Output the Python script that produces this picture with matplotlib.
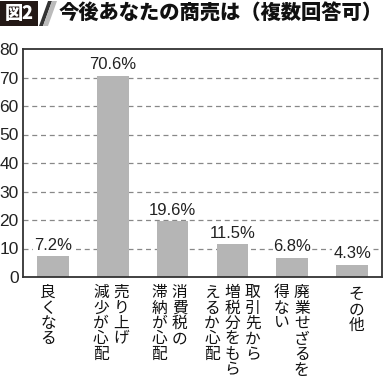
import matplotlib
matplotlib.use("Agg")
import matplotlib.pyplot as plt
import matplotlib.transforms as mtransforms
from matplotlib.patches import Rectangle, Polygon

plt.rcParams['font.family'] = ['Liberation Sans', 'Noto Sans CJK JP', 'DejaVu Sans']

# data
categories = [
    ['良くなる'],
    ['売り上げ', '減少が心配'],
    ['消費税の', '滞納が心配'],
    ['取引先から', '増税分をもら', 'えるか心配'],
    ['廃業せざるを', '得ない'],
    ['その他'],
]
values = [7.2, 70.6, 19.6, 11.5, 6.8, 4.3]
value_labels = ['7.2%', '70.6%', '19.6%', '11.5%', '6.8%', '4.3%']
yticks = [0, 10, 20, 30, 40, 50, 60, 70, 80]
title = '今後あなたの商売は（複数回答可）'
fig_no = '図2'

W, H = 384, 390
fig = plt.figure(figsize=(W / 100, H / 100), dpi=100)
ax = fig.add_axes([23 / W, (H - 277) / H, 359 / W, 228 / H])

x = list(range(len(values)))
ax.bar(x, values, width=0.53, color='#b5b5b5', zorder=2)
ax.set_xlim(-0.5, len(values) - 0.5)
ax.set_ylim(0, 80)
ax.set_yticks(yticks)
ax.set_yticklabels([str(t) for t in yticks], fontsize=12.5, color='#222222')
ax.tick_params(axis='y', length=0, pad=3)
ax.set_xticks([])
for t in yticks[1:-1]:
    ax.axhline(t, color='#888888', lw=0.9, ls=(0, (4, 3)), zorder=1)
for s in ax.spines.values():
    s.set_color('#333333')
    s.set_linewidth(1.3)

for i, (v, lab) in enumerate(zip(values, value_labels)):
    ax.text(i, v + 1.2, lab, ha='center', va='bottom', fontsize=12, color='#222222',
            zorder=3, bbox=dict(facecolor='white', edgecolor='none', pad=0.5))

# vertical japanese labels (columns right to left)
trans = mtransforms.blended_transform_factory(ax.transData, fig.transFigure)
shift = [-0.08, -0.03, -0.05, 0.0, -0.01, 0.07]
col_gap = 0.34
pitch = 15.5
for i, cols in enumerate(categories):
    n = len(cols)
    top = 287 if n == 1 and i == len(categories) - 1 else 285
    for j, col in enumerate(cols):
        cx = i + shift[i] + ((n - 1) / 2 - j) * col_gap
        for k, ch in enumerate(col):
            py = top + 7.5 + k * pitch
            fig.text(cx, 1 - py / H, ch, transform=trans, ha='center', va='center',
                     fontsize=11.3, family=['Noto Sans CJK JP'], color='#111111')

# header
fig.patches.append(Rectangle((0, 1 - 26 / H), 38 / W, 25 / H, transform=fig.transFigure,
                             facecolor='#231815', edgecolor='none'))
fig.text(19 / W, 1 - 13.5 / H, fig_no, ha='center', va='center', color='white',
         fontsize=13, fontweight='heavy', family=['Noto Sans CJK JP'])
def px(pts):
    return [(a / W, 1 - b / H) for a, b in pts]
fig.patches.append(Polygon(px([(39, 26), (43, 26), (52, 1), (48, 1)]), closed=True,
                           transform=fig.transFigure, facecolor='#333333', edgecolor='none'))
fig.patches.append(Polygon(px([(43, 26), (48, 26), (57, 1), (52, 1)]), closed=True,
                           transform=fig.transFigure, facecolor='#bbbbbb', edgecolor='none'))
fig.text(59 / W, 1 - 14 / H, title, ha='left', va='center', color='#111111',
         fontsize=14.6, fontweight='heavy', family=['Noto Sans CJK JP'])

fig.savefig('out.png', dpi=100)
